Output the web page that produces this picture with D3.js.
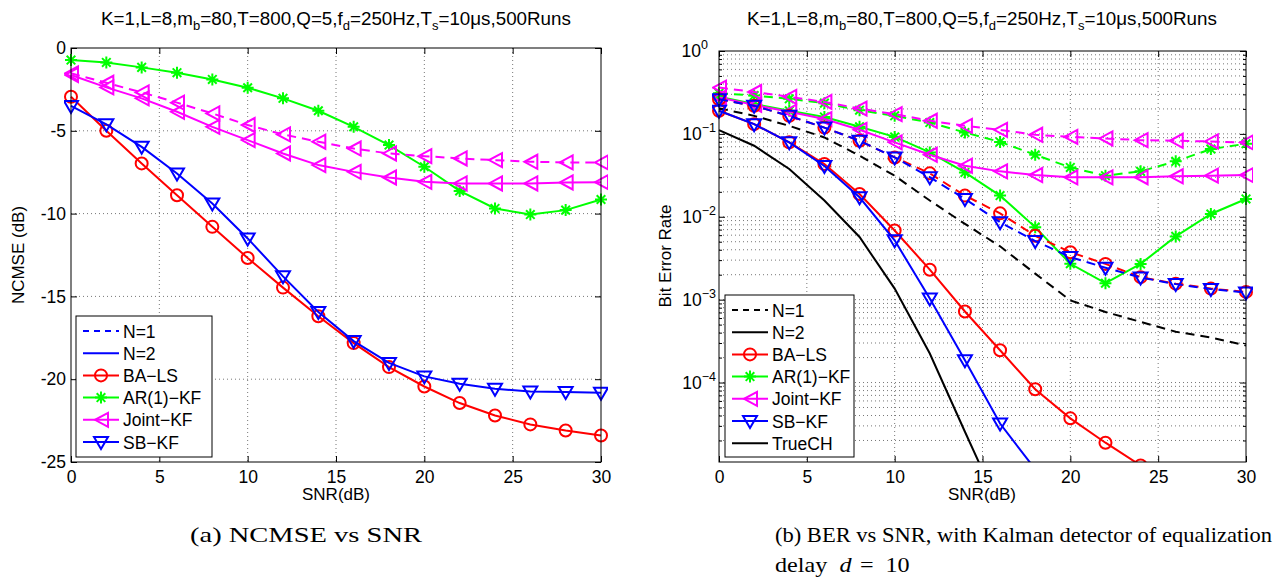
<!DOCTYPE html>
<html>
<head>
<meta charset="utf-8">
<script src="https://cdn.jsdelivr.net/npm/d3@7"></script>
<style>
body { margin: 0; background: #fff; }
</style>
</head>
<body>
<div id="fig"></div>
<script>
// x values (SNR in dB) shared by every curve
var snr = [0, 2, 4, 6, 8, 10, 12, 14, 16, 18, 20, 22, 24, 26, 28, 30];
var xTicks = [0, 5, 10, 15, 20, 25, 30];
var ncmseTicks = [0, -5, -10, -15, -20, -25];
var berTicks = [1, 1e-1, 1e-2, 1e-3, 1e-4];
var berExp = ["0", "\u22121", "\u22122", "\u22123", "\u22124"];

// (a) NCMSE in dB
var ncmseBALS   = [-2.94, -5.0, -6.97, -8.89, -10.8, -12.68, -14.47, -16.2, -17.82, -19.27, -20.44, -21.44, -22.19, -22.73, -23.1, -23.4];
var ncmseAR     = [-0.73, -0.87, -1.17, -1.49, -1.9, -2.4, -3.04, -3.79, -4.76, -5.86, -7.17, -8.63, -9.69, -10.06, -9.79, -9.15];
var ncmseJoint1 = [-1.53, -2.1, -2.68, -3.3, -3.95, -4.65, -5.22, -5.66, -6.07, -6.37, -6.53, -6.67, -6.77, -6.87, -6.91, -6.91];
var ncmseJoint2 = [-1.63, -2.38, -3.04, -3.85, -4.76, -5.56, -6.37, -7.07, -7.48, -7.82, -8.08, -8.18, -8.18, -8.18, -8.12, -8.1];
var ncmseSB     = [-3.5, -4.61, -5.97, -7.58, -9.39, -11.5, -13.79, -15.94, -17.7, -19.02, -19.83, -20.27, -20.58, -20.74, -20.78, -20.82];

// (b) BER, N=1 dashed / N=2 solid
var berBALS1  = [0.262, 0.218, 0.165, 0.119, 0.0826, 0.052, 0.0334, 0.018, 0.011, 0.0059, 0.00374, 0.0027, 0.00187, 0.00156, 0.00136, 0.00124];
var berBALS2  = [0.19, 0.131, 0.079, 0.0433, 0.0188, 0.00682, 0.0023, 0.00072, 0.000245, 8.3e-5, 3.7e-5, 1.88e-5, 1.0e-5];
var berAR1    = [0.31, 0.29, 0.265, 0.235, 0.193, 0.165, 0.137, 0.104, 0.080, 0.056, 0.0394, 0.0313, 0.0353, 0.0466, 0.0656, 0.076];
var berAR2    = [0.28, 0.23, 0.19, 0.16, 0.122, 0.092, 0.0598, 0.0343, 0.018, 0.0075, 0.00271, 0.00158, 0.0027, 0.0058, 0.0108, 0.0164];
var berJoint1 = [0.362, 0.32, 0.28, 0.243, 0.202, 0.173, 0.144, 0.125, 0.112, 0.0975, 0.092, 0.088, 0.084, 0.0826, 0.081, 0.0788];
var berJoint2 = [0.275, 0.224, 0.185, 0.151, 0.112, 0.079, 0.056, 0.0413, 0.0353, 0.0319, 0.0299, 0.0299, 0.03, 0.0308, 0.0313, 0.0319];
var berSB1    = [0.262, 0.218, 0.165, 0.119, 0.0826, 0.052, 0.030, 0.0164, 0.0086, 0.0051, 0.00326, 0.00243, 0.00185, 0.00154, 0.00134, 0.00122];
var berSB2    = [0.19, 0.131, 0.079, 0.041, 0.0172, 0.0052, 0.00103, 0.000186, 3.2e-5, 9e-6];
var berTrue1  = [0.204, 0.165, 0.125, 0.0906, 0.0545, 0.0313, 0.0157, 0.0082, 0.0044, 0.00206, 0.00098, 0.00071, 0.00054, 0.00041, 0.00035, 0.00028];
var berTrue2  = [0.111, 0.072, 0.0377, 0.0157, 0.0057, 0.00136, 0.000224, 2.55e-5, 3e-6];

var legendA = ["N=1", "N=2", "BA\u2212LS", "AR(1)\u2212KF", "Joint\u2212KF", "SB\u2212KF"];
var legendB = ["N=1", "N=2", "BA\u2212LS", "AR(1)\u2212KF", "Joint\u2212KF", "SB\u2212KF", "TrueCH"];

var DASH = "9,6";
var sans = "Liberation Sans, Arial, sans-serif";
var serif = "Liberation Serif, Times New Roman, serif";

var svg = d3.select("#fig").append("svg")
        .attr("width", 1277)
        .attr("height", 579)
        .attr("font-family", sans);

function marker(g, type, color, x, y) {
    var p;
    if (type == "o") {
        g.append("circle").attr("cx", x).attr("cy", y).attr("r", 6)
            .attr("fill", "none").attr("stroke", color).attr("stroke-width", 2);
        return;
    }
    if (type == "v") p = "M-7,-5L7,-5L0,7Z";
    if (type == "<") p = "M7,-7L7,7L-6,0Z";
    if (type == "*") p = "M-6,0L6,0M0,-6L0,6M-4.3,-4.3L4.3,4.3M-4.3,4.3L4.3,-4.3";
    g.append("path").attr("d", p)
        .attr("transform", "translate(" + x + "," + y + ")")
        .attr("fill", "none").attr("stroke", color).attr("stroke-width", 2);
}

function styleAxis(g, size) {
    g.select(".domain").remove();
    g.attr("font-family", sans).attr("font-size", size);
    g.selectAll(".tick line").attr("stroke", "#000");
    g.selectAll("text").attr("fill", "#000");
}

function title(cx) {
    var t = svg.append("text").attr("x", cx).attr("y", 25)
        .attr("text-anchor", "middle").attr("font-size", 18.8);
    var parts = [["K=1,L=8,m", 0], ["b", 1], ["=80,T=800,Q=5,f", 0], ["d", 1], ["=250Hz,T", 0], ["s", 1], ["=10\u03bcs,500Runs", 0]];
    var down = false;
    parts.forEach(function (p) {
        var s = t.append("tspan").text(p[0]);
        if (p[1] && !down) { s.attr("dy", 5).attr("font-size", 13); down = true; }
        else if (!p[1] && down) { s.attr("dy", -5); down = false; }
    });
}

function drawSeries(g, x, y, vals, color, dash, mk) {
    var line = d3.line().x(function (d, i) { return x(snr[i]); }).y(function (d) { return y(d); });
    g.append("path").datum(vals).attr("d", line)
        .attr("fill", "none").attr("stroke", color).attr("stroke-width", 2)
        .attr("stroke-dasharray", dash ? DASH : null);
    if (mk) vals.forEach(function (v, i) { marker(g, mk, color, x(snr[i]), y(v)); });
}

function legend(x0, y0, w, h, items, labels) {
    var g = svg.append("g");
    g.append("rect").attr("x", x0).attr("y", y0).attr("width", w).attr("height", h)
        .attr("fill", "#fff").attr("stroke", "#000").attr("stroke-width", 1);
    items.forEach(function (it, i) {
        var yy = y0 + 15 + i * 22.2;
        g.append("line").attr("x1", x0 + 7).attr("x2", x0 + 43).attr("y1", yy).attr("y2", yy)
            .attr("stroke", it[0]).attr("stroke-width", 2)
            .attr("stroke-dasharray", it[1] ? "6,5" : null);
        if (it[2]) marker(g, it[2], it[0], x0 + 25, yy);
        g.append("text").attr("x", x0 + 47).attr("y", yy + 6.5).attr("font-size", 17.5).text(labels[i]);
    });
}

// ---------------- panel (a) ----------------
var xa = d3.scaleLinear().domain([0, 30]).range([71, 601]);
var ya = d3.scaleLinear().domain([-25, 0]).range([462, 48]);

var grid = svg.append("g").attr("stroke", "#777").attr("stroke-dasharray", "1,3");
grid.selectAll(".v").data([5, 10, 15, 20, 25]).join("line")
    .attr("x1", function (d) { return xa(d); }).attr("x2", function (d) { return xa(d); })
    .attr("y1", 48).attr("y2", 462);
grid.selectAll(".h").data([-5, -10, -15, -20]).join("line")
    .attr("y1", function (d) { return ya(d); }).attr("y2", function (d) { return ya(d); })
    .attr("x1", 71).attr("x2", 601);

svg.append("g").attr("transform", "translate(0,462)")
    .call(d3.axisBottom(xa).tickValues(xTicks).tickSize(-6).tickPadding(9).tickFormat(String))
    .call(styleAxis, 17.5);
svg.append("g").attr("transform", "translate(0,48)")
    .call(d3.axisTop(xa).tickValues(xTicks).tickSize(-6).tickFormat(""))
    .call(styleAxis, 17.5);
svg.append("g").attr("transform", "translate(71,0)")
    .call(d3.axisLeft(ya).tickValues(ncmseTicks).tickSize(-6).tickPadding(5).tickFormat(String))
    .call(styleAxis, 17.5);
svg.append("g").attr("transform", "translate(601,0)")
    .call(d3.axisRight(ya).tickValues(ncmseTicks).tickSize(-6).tickFormat(""))
    .call(styleAxis, 17.5);

svg.append("clipPath").attr("id", "clipA").append("rect")
    .attr("x", 64).attr("y", 41).attr("width", 544).attr("height", 428);
var ga = svg.append("g").attr("clip-path", "url(#clipA)");
drawSeries(ga, xa, ya, ncmseAR, "#00ff00", false, "*");
drawSeries(ga, xa, ya, ncmseJoint1, "#ff00ff", true, "<");
drawSeries(ga, xa, ya, ncmseJoint2, "#ff00ff", false, "<");
drawSeries(ga, xa, ya, ncmseBALS, "#ff0000", false, "o");
drawSeries(ga, xa, ya, ncmseSB, "#0000ff", false, "v");

svg.append("rect").attr("x", 71).attr("y", 48).attr("width", 530).attr("height", 414)
    .attr("fill", "none").attr("stroke", "#000").attr("stroke-width", 1);

legend(76, 316, 136, 141, [
    ["#0000ff", true, null], ["#0000ff", false, null], ["#ff0000", false, "o"],
    ["#00ff00", false, "*"], ["#ff00ff", false, "<"], ["#0000ff", false, "v"]
], legendA);

title(336);
svg.append("text").attr("x", 336).attr("y", 500).attr("text-anchor", "middle")
    .attr("font-size", 17).text("SNR(dB)");
svg.append("text").attr("transform", "translate(24,255) rotate(-90)").attr("text-anchor", "middle")
    .attr("font-size", 17).text("NCMSE (dB)");

// ---------------- panel (b) ----------------
var xb = d3.scaleLinear().domain([0, 30]).range([719, 1246]);
var yb = d3.scaleLog().domain([1.1e-5, 1]).range([462, 51]);

var minor = [];
[-5, -4, -3, -2, -1].forEach(function (e) {
    for (var k = 2; k <= 9; k++) {
        var v = k * Math.pow(10, e);
        if (v > 1.1e-5 && v < 1) minor.push(v);
    }
});

var gridB = svg.append("g").attr("stroke", "#777").attr("stroke-dasharray", "1,3");
gridB.selectAll(".v").data([5, 10, 15, 20, 25]).join("line")
    .attr("x1", function (d) { return xb(d); }).attr("x2", function (d) { return xb(d); })
    .attr("y1", 51).attr("y2", 462);
gridB.selectAll(".h").data(berTicks.slice(1).concat(minor)).join("line")
    .attr("y1", function (d) { return yb(d); }).attr("y2", function (d) { return yb(d); })
    .attr("x1", 719).attr("x2", 1246);

svg.append("g").attr("transform", "translate(0,462)")
    .call(d3.axisBottom(xb).tickValues(xTicks).tickSize(-6).tickPadding(9).tickFormat(String))
    .call(styleAxis, 17.5);
svg.append("g").attr("transform", "translate(0,51)")
    .call(d3.axisTop(xb).tickValues(xTicks).tickSize(-6).tickFormat(""))
    .call(styleAxis, 17.5);
var yAxB = svg.append("g").attr("transform", "translate(719,0)")
    .call(d3.axisLeft(yb).tickValues(berTicks).tickSize(-6).tickPadding(5).tickFormat(function () { return "10"; }))
    .call(styleAxis, 17.5);
yAxB.selectAll(".tick text").each(function (d, i) {
    var ex = berExp[i].length > 1 ? 2 : -6;
    d3.select(this).attr("text-anchor", "end").attr("dx", ex);
    d3.select(this).append("tspan").attr("dy", -8).attr("font-size", 12.5).text(berExp[i]);
});
svg.append("g").attr("transform", "translate(719,0)")
    .call(d3.axisLeft(yb).tickValues(minor).tickSize(-3).tickFormat(""))
    .call(styleAxis, 17.5);
svg.append("g").attr("transform", "translate(1246,0)")
    .call(d3.axisRight(yb).tickValues(berTicks).tickSize(-6).tickFormat(""))
    .call(styleAxis, 17.5);
svg.append("g").attr("transform", "translate(1246,0)")
    .call(d3.axisRight(yb).tickValues(minor).tickSize(-3).tickFormat(""))
    .call(styleAxis, 17.5);

svg.append("clipPath").attr("id", "clipB").append("rect")
    .attr("x", 712).attr("y", 44).attr("width", 541).attr("height", 418);
var gb = svg.append("g").attr("clip-path", "url(#clipB)");
drawSeries(gb, xb, yb, berTrue1, "#000", true, null);
drawSeries(gb, xb, yb, berTrue2, "#000", false, null);
drawSeries(gb, xb, yb, berAR1, "#00ff00", true, "*");
drawSeries(gb, xb, yb, berAR2, "#00ff00", false, "*");
drawSeries(gb, xb, yb, berJoint1, "#ff00ff", true, "<");
drawSeries(gb, xb, yb, berJoint2, "#ff00ff", false, "<");
drawSeries(gb, xb, yb, berBALS1, "#ff0000", true, "o");
drawSeries(gb, xb, yb, berBALS2, "#ff0000", false, "o");
drawSeries(gb, xb, yb, berSB1, "#0000ff", true, "v");
drawSeries(gb, xb, yb, berSB2, "#0000ff", false, "v");

svg.append("rect").attr("x", 719).attr("y", 51).attr("width", 527).attr("height", 411)
    .attr("fill", "none").attr("stroke", "#000").attr("stroke-width", 1);

legend(725, 295, 129, 162, [
    ["#000", true, null], ["#000", false, null], ["#ff0000", false, "o"],
    ["#00ff00", false, "*"], ["#ff00ff", false, "<"], ["#0000ff", false, "v"], ["#000", false, null]
], legendB);

title(982);
svg.append("text").attr("x", 982).attr("y", 500).attr("text-anchor", "middle")
    .attr("font-size", 17).text("SNR(dB)");
svg.append("text").attr("transform", "translate(671,256) rotate(-90)").attr("text-anchor", "middle")
    .attr("font-size", 17).text("Bit Error Rate");

// ---------------- captions ----------------
svg.append("text").attr("x", 190).attr("y", 542).attr("font-family", serif)
    .attr("font-size", 21).attr("textLength", 232).attr("lengthAdjust", "spacingAndGlyphs")
    .text("(a) NCMSE vs SNR");
svg.append("text").attr("x", 775).attr("y", 542).attr("font-family", serif)
    .attr("font-size", 21).attr("textLength", 497).attr("lengthAdjust", "spacingAndGlyphs")
    .text("(b) BER vs SNR, with Kalman detector of equalization");
// second caption line, stretched like the first one, with math spacing round "="
var cap2 = svg.append("g").attr("transform", "translate(775,572) scale(1.15,1)")
    .attr("font-family", serif).attr("font-size", 21);
cap2.append("text").attr("x", 0).text("delay");
cap2.append("text").attr("x", 56).attr("font-style", "italic").text("d");
cap2.append("text").attr("x", 74).text("=");
cap2.append("text").attr("x", 96).text("10");
</script>
</body>
</html>
